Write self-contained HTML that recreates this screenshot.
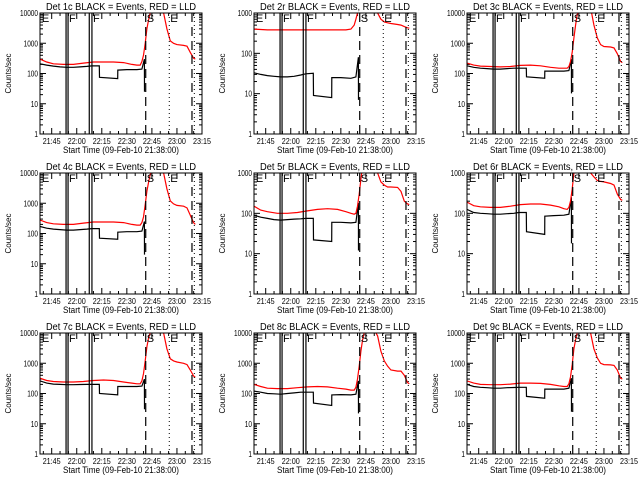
<!DOCTYPE html>
<html><head><meta charset="utf-8">
<style>
html,body{margin:0;padding:0;background:#fff;}
svg{display:block;font-family:"Liberation Sans",sans-serif;}
</style></head>
<body>
<svg id="chart" width="640" height="480" viewBox="0 0 640 480"></svg>
<script>
// ---- data ----
const detNames = ["1c","2r","3c","4c","5r","6r","7c","8c","9c"];
const decades = [4,3,4,4,3,3,4,4,4];
const blackTimes = [0,4,8,12,16,20,24,28,31,35.5,35.6,46.5,46.6,52,58,61,62.5,62.6];
const redTimes = [0,4,8,14,20,26,32,38,44,50,55,58,60,61,62,63,64,65,66,70,74,76,78,80,82,86,88,90,92,93];
const black1 = [210,190,175,165,160,160,165,172,178,180,75,68,130,135,135,140,300,25];
const black2 = [33,30,28,27,26,26,27,29,31,32,9,8,25,25,24,26,80,7];
const black3 = [180,160,150,145,140,140,145,150,150,150,78,70,120,120,120,125,300,22];
const black4 = [170,150,140,135,130,130,135,140,145,145,70,65,110,115,115,120,250,20];
const black5 = [90,80,75,70,68,70,72,73,75,75,22,20,60,60,58,60,180,12];
const black6 = [125,105,100,98,95,95,98,100,105,105,35,30,85,88,90,95,250,18];
const black7 = [260,220,205,200,195,195,198,200,200,200,100,90,170,170,170,175,300,30];
const black8 = [120,110,100,98,95,100,105,110,110,110,48,40,90,92,90,95,260,22];
const black9 = [200,170,160,155,150,150,155,158,160,160,80,70,140,140,140,150,320,25];
const red1 = [300,240,210,200,200,220,240,240,240,230,200,190,190,250,400,1000,3000,6000,10000,20000,10000,3000,1200,1000,900,850,800,500,320,300];
const red2 = [400,390,380,380,380,380,380,380,380,380,380,400,500,700,1000,2000,4000,8000,9000,9000,1000,700,600,570,550,520,500,460,430,420];
const red3 = [220,190,175,170,165,170,185,190,180,160,150,150,150,170,250,500,1500,4000,9000,20000,15000,4000,1500,900,780,750,700,450,250,230];
const red4 = [280,230,210,200,200,220,240,240,240,230,200,190,190,230,350,900,2500,5000,9000,20000,10000,3000,1200,950,850,800,700,400,230,200];
const red5 = [150,120,110,100,100,105,115,125,130,125,110,100,95,100,150,300,700,1500,3000,9000,1000,600,500,450,450,440,350,200,170,165];
const red6 = [190,155,145,140,140,150,165,170,170,160,145,130,125,140,200,400,1000,2500,5000,9000,1000,800,650,620,600,550,500,300,220,210];
const red7 = [320,270,250,240,240,250,270,280,270,240,220,210,210,260,450,1200,3500,7000,10000,20000,10000,3000,1400,1200,1100,1000,900,600,380,340];
const red8 = [200,170,150,145,145,155,165,170,165,150,140,130,130,160,300,800,2500,6000,10000,20000,8000,2500,1200,800,600,550,550,400,230,210];
const red9 = [260,220,200,195,195,205,220,220,215,200,180,170,170,210,350,900,3000,6000,10000,20000,10000,3000,1500,1000,900,880,850,600,320,300];
const blacks = [black1,black2,black3,black4,black5,black6,black7,black8,black9];
const reds = [red1,red2,red3,red4,red5,red6,red7,red8,red9];
const solidLineTimes = [15.6,16.8,29.5,31.1];
const dashedLineTimes = [63.3,91];
const dottedLineTimes = [77.4,92.4];
const markerLetters = ["E","F","F","S","E"];
const markerTimes = [0.5,16.8,31.1,63.3,77.4];
const xTickLabels = ["21:45","22:00","22:15","22:30","22:45","23:00","23:15"];
const xTickTimes = [7,22,37,52,67,82,97];
const totalMinutes = 97;

// ---- drawing ----
const NS = "http://www.w3.org/2000/svg";
const svg = document.getElementById("chart");
const colLeft = [40,254,467];
const W = 162, H = 121;
function mk(tag, attrs, parent){
  const e = document.createElementNS(NS, tag);
  for (const k in attrs) e.setAttribute(k, attrs[k]);
  (parent||svg).appendChild(e);
  return e;
}
for (let p=0;p<9;p++){
  const L = colLeft[p%3], T = 13 + Math.floor(p/3)*160, B = T+H, R = L+W;
  const nd = decades[p];
  const xs = t => L + t/totalMinutes*W;
  const ys = v => B - Math.log10(v)/nd*H;
  const g = mk("g",{});
  
  
  const clipId = "c"+p;
  const cp = mk("clipPath",{id:clipId},g);
  mk("rect",{x:L,y:T,width:W,height:H},cp);
  const title = mk("text",{x:L+W/2,y:T-3,"text-anchor":"middle","font-size":"10",textLength:"150",lengthAdjust:"spacingAndGlyphs"},g);
  title.textContent = "Det "+detNames[p]+" BLACK = Events, RED = LLD";
  
  
  const yl = mk("text",{x:0,y:0,"text-anchor":"middle","font-size":"8",textLength:"40",lengthAdjust:"spacingAndGlyphs",transform:"translate("+(L-29)+","+(T+H/2)+") rotate(-90)"},g);
  yl.textContent = "Counts/sec";
  
  
  const xl = mk("text",{x:L+W/2,y:B+19,"text-anchor":"middle","font-size":"9",textLength:"116",lengthAdjust:"spacingAndGlyphs"},g);
  xl.textContent = "Start Time (09-Feb-10 21:38:00)";
  
  
  for (let d=0; d<=nd; d++){
    const y = ys(Math.pow(10,d));
    mk("line",{x1:L,x2:L+6,y1:y,y2:y,stroke:"#000"},g);
    mk("line",{x1:R,x2:R-6,y1:y,y2:y,stroke:"#000"},g);
    const s = String(Math.pow(10,d));
    const tl = mk("text",{x:L-2,y:y+3,"text-anchor":"end","font-size":"8",textLength:String(s.length*3.6),lengthAdjust:"spacingAndGlyphs"},g);
    tl.textContent = s;
    
    
    if (d<nd) for (let m=2;m<=9;m++){
      const ym = ys(m*Math.pow(10,d));
      mk("line",{x1:L,x2:L+3,y1:ym,y2:ym,stroke:"#000"},g);
      mk("line",{x1:R,x2:R-3,y1:ym,y2:ym,stroke:"#000"},g);
    }
  }
  for (let t=2;t<=totalMinutes;t+=5){
    const x = xs(t);
    const major = xTickTimes.indexOf(t)>=0;
    const len = major?6:3;
    mk("line",{x1:x,x2:x,y1:B,y2:B-len,stroke:"#000"},g);
    mk("line",{x1:x,x2:x,y1:T,y2:T+len,stroke:"#000"},g);
  }
  xTickLabels.forEach((lab,i)=>{
    const tl = mk("text",{x:xs(xTickTimes[i]),y:B+10,"text-anchor":"middle","font-size":"8",textLength:"18",lengthAdjust:"spacingAndGlyphs"},g);
    tl.textContent = lab;
    
    
  });
  const inner = mk("g",{"clip-path":"url(#"+clipId+")"},g);
  const bpts = blackTimes.map((t,i)=>xs(t).toFixed(1)+","+ys(blacks[p][i]).toFixed(1)).join(" ");
  const bl = mk("polyline",{points:bpts,fill:"none",stroke:"#000","stroke-width":"1.2"},inner);
  
  
  const rpts = redTimes.map((t,i)=>xs(t).toFixed(1)+","+ys(reds[p][i]).toFixed(1)).join(" ");
  const rl = mk("polyline",{points:rpts,fill:"none",stroke:"#ff0000","stroke-width":"1.2"},inner);
  
  
  solidLineTimes.forEach(t=>{
    const l = mk("line",{x1:xs(t),x2:xs(t),y1:T,y2:B,stroke:"#000","stroke-width":"1.2"},inner);
    
    
  });
  dashedLineTimes.forEach(t=>{
    const l = mk("line",{x1:xs(t),x2:xs(t),y1:B,y2:T,stroke:"#000","stroke-width":"1.2","stroke-dasharray":"9,5"},inner);
    
    
  });
  dottedLineTimes.forEach(t=>{
    const l = mk("line",{x1:xs(t),x2:xs(t),y1:B,y2:T,stroke:"#000","stroke-width":"1","stroke-dasharray":"1,3"},inner);
    
    
  });
  markerLetters.forEach((s,i)=>{
    const tx = mk("text",{x:xs(markerTimes[i])+1,y:T+9,"font-size":"11"},inner);
    tx.textContent = s;
    
    
  });
  const fr = mk("rect",{x:L,y:T,width:W,height:H,fill:"none",stroke:"#000","stroke-width":"1"},g);
  
  
}
</script>
</body></html>
